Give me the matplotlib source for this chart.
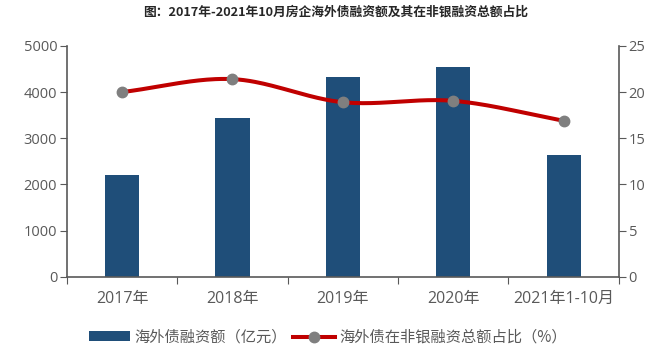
# 房企海外债融资额及占比 chart

import numpy as np
import matplotlib
matplotlib.use('Agg')
import matplotlib.pyplot as plt
from matplotlib.lines import Line2D
from matplotlib.patches import Patch

plt.rcParams['font.family'] = ['Noto Sans CJK SC', 'DejaVu Sans']

# Data
categories = ['2017年', '2018年', '2019年', '2020年', '2021年1-10月']
amount = [2200, 3430, 4320, 4550, 2630]        # 亿元
share = [20.0, 21.4, 18.9, 19.05, 16.9]        # %

grey = '#595959'
num_font = ['Open Sans', 'Noto Sans CJK SC']
x = np.arange(len(categories))


def catmull_rom(xs, ys, n=40):
    # smooth curve through the points (like a spreadsheet "smoothed line")
    xs = np.asarray(xs, float)
    ys = np.asarray(ys, float)
    px = np.concatenate([[2 * xs[0] - xs[1]], xs, [2 * xs[-1] - xs[-2]]])
    py = np.concatenate([[2 * ys[0] - ys[1]], ys, [2 * ys[-1] - ys[-2]]])
    out_x, out_y = [], []
    t = np.linspace(0, 1, n)
    for i in range(1, len(px) - 2):
        for arr, out in ((px, out_x), (py, out_y)):
            p0, p1, p2, p3 = arr[i - 1], arr[i], arr[i + 1], arr[i + 2]
            out.extend(0.5 * (2 * p1 + (-p0 + p2) * t
                              + (2 * p0 - 5 * p1 + 4 * p2 - p3) * t ** 2
                              + (-p0 + 3 * p1 - 3 * p2 + p3) * t ** 3))
    return np.array(out_x), np.array(out_y)


fig = plt.figure(figsize=(6.69, 3.61), dpi=100)
ax = fig.add_axes([0.1, 0.233, 0.825, 0.64])
ax2 = ax.twinx()

ax.bar(x, amount, width=0.31, color='#1F4E79', zorder=2)
ax.set_xlim(-0.5, len(categories) - 0.5)
ax.set_ylim(0, 5000)
ax.set_yticks(range(0, 5001, 1000))

sx, sy = catmull_rom(x, share)
ax2.plot(sx, sy, color='#C00000', lw=2.9, zorder=3, solid_capstyle='round')
ax2.plot(x, share, 'o', color='#7F7F7F', ms=7.5, zorder=4)
ax2.set_ylim(0, 25)
ax2.set_yticks(range(0, 26, 5))

# category ticks between groups, labels centred
ax.set_xticks(np.arange(-0.5, len(categories), 1.0))
ax.set_xticklabels([])
ax.set_xticks(x, minor=True)
ax.set_xticklabels(categories, minor=True)
ax.tick_params(axis='x', which='minor', length=0, pad=10,
               labelsize=11.5, labelcolor=grey)
ax.tick_params(axis='x', which='major', length=5, color=grey)
ax.tick_params(axis='y', length=5, color=grey, labelsize=10.5,
               labelcolor=grey, pad=2)
ax2.tick_params(axis='y', length=5, color=grey, labelsize=10.5,
                labelcolor=grey, pad=2)
for lab in ax.get_xticklabels(minor=True) + ax.get_yticklabels() + ax2.get_yticklabels():
    lab.set_fontfamily(num_font)

for a in (ax, ax2):
    a.spines['top'].set_visible(False)
    for s in ('left', 'right', 'bottom'):
        a.spines[s].set_color(grey)
        a.spines[s].set_linewidth(1.2)
ax.spines['right'].set_visible(False)
ax2.spines['left'].set_visible(False)
ax2.spines['bottom'].set_visible(False)

fig.text(0.502, 0.966, '图：2017年-2021年10月房企海外债融资额及其在非银融资总额占比',
         ha='center', va='center', fontsize=9.2, fontweight='bold',
         color='#262626')

handles = [Patch(facecolor='#1F4E79'),
           Line2D([], [], color='#C00000', lw=2.9, marker='o',
                  markerfacecolor='#7F7F7F', markeredgecolor='#7F7F7F', ms=7.5)]
labels = ['海外债融资额（亿元）', '海外债在非银融资总额占比（%）']
fig.legend(handles, labels, loc='center', bbox_to_anchor=(0.49, 0.066),
           ncol=2, frameon=False, fontsize=11, labelcolor=grey,
           handlelength=2.7, handleheight=0.6, handletextpad=0.3,
           columnspacing=0.4)

plt.savefig('out.png', dpi=100)
